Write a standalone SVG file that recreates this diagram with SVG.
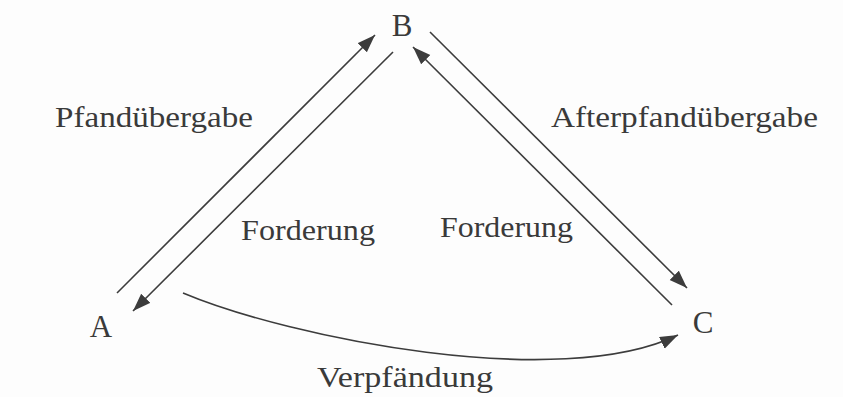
<svg xmlns="http://www.w3.org/2000/svg" width="843" height="397" viewBox="0 0 843 397">
<style>
.lbl{font-family:"Liberation Serif","Times New Roman",serif;font-size:29px;fill:#3a3a3a}
.node{font-family:"Liberation Serif","Times New Roman",serif;font-size:31px;fill:#3a3a3a;text-anchor:middle}
.edge{fill:none;stroke:#3c3c3c;stroke-width:1.6;marker-end:url(#ah)}
</style>
<defs>
<marker id="ah" markerUnits="userSpaceOnUse" markerWidth="19" markerHeight="14" refX="18" refY="6.5" orient="auto">
<path d="M0,0 L18,6.5 L0,13 z" fill="#3c3c3c"/>
</marker>
</defs>
<rect width="843" height="397" fill="#fdfdfd"/>
<g id="connectors">
<line id="e-AB" class="edge" x1="117" y1="293" x2="375" y2="35"/>
<line id="e-BA" class="edge" x1="393" y1="52" x2="133" y2="311"/>
<line id="e-BC" class="edge" x1="430" y1="32" x2="687" y2="288"/>
<line id="e-CB" class="edge" x1="672" y1="305" x2="413" y2="47"/>
<path id="e-AC" class="edge" d="M183,293 C290,338 560,392 678,335"/>
</g>
<g id="node-A"><text class="node" x="101" y="337">A</text></g>
<g id="node-B"><text class="node" x="402" y="36">B</text></g>
<g id="node-C"><text class="node" x="703" y="333">C</text></g>
<g id="labels">
<text class="lbl" x="55" y="127" textLength="198" lengthAdjust="spacingAndGlyphs">Pfandübergabe</text>
<text class="lbl" x="551" y="127" textLength="267" lengthAdjust="spacingAndGlyphs">Afterpfandübergabe</text>
<text class="lbl" x="241" y="240" textLength="134" lengthAdjust="spacingAndGlyphs">Forderung</text>
<text class="lbl" x="440" y="237" textLength="133" lengthAdjust="spacingAndGlyphs">Forderung</text>
<text class="lbl" x="317" y="387" textLength="176" lengthAdjust="spacingAndGlyphs">Verpfändung</text>
</g>
</svg>
